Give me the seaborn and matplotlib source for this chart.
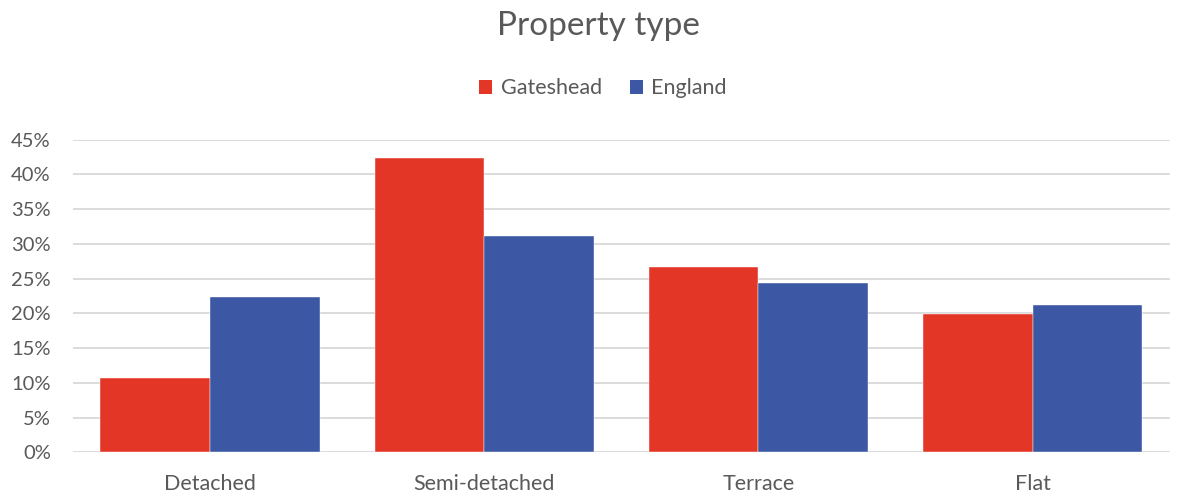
import matplotlib
matplotlib.use("Agg")
import matplotlib.pyplot as plt
import seaborn as sns
import pandas as pd
from matplotlib.patches import Patch
from matplotlib.ticker import PercentFormatter

# %%
categories = ["Detached", "Semi-detached", "Terrace", "Flat"]
gateshead = [10.7, 42.4, 26.7, 19.9]
england = [22.4, 31.2, 24.4, 21.2]
series = ["Gateshead", "England"]
colors = ["#E33626", "#3C58A4"]
text_col = "#595959"

df = pd.DataFrame({
    "category": categories * 2,
    "area": [series[0]] * len(categories) + [series[1]] * len(categories),
    "value": gateshead + england,
})

# %%
sns.set_style("white")
plt.rcParams["font.family"] = ["Lato", "DejaVu Sans"]

fig = plt.figure(figsize=(11.78, 4.97), dpi=100)
ax = fig.add_axes([0.062, 0.09, 0.931, 0.629])

sns.barplot(data=df, x="category", y="value", hue="area", order=categories,
            hue_order=series, palette=colors, width=0.8, gap=0,
            saturation=1, edgecolor="white", linewidth=0.3, ax=ax, legend=False)

ax.set_ylim(0, 45)
ax.set_yticks(range(0, 46, 5))
ax.yaxis.set_major_formatter(PercentFormatter(decimals=0))
ax.set_xlim(-0.5, len(categories) - 0.5)
ax.grid(axis="y", color="#D9D9D9", linewidth=1.3)
ax.set_axisbelow(True)
for s in ax.spines.values():
    s.set_visible(False)
ax.tick_params(axis="y", length=0, pad=16, labelsize=14.5, labelcolor=text_col)
ax.tick_params(axis="x", length=0, pad=16, labelsize=15.5, labelcolor=text_col)
ax.set_xlabel("")
ax.set_ylabel("")

handles = [Patch(facecolor=c, edgecolor="none") for c in colors]
fig.legend(handles, series, loc="center", bbox_to_anchor=(0.512, 0.822), ncol=2,
           frameon=False, fontsize=15.5, labelcolor=text_col, handlelength=0.6,
           handleheight=0.6, handletextpad=0.4, columnspacing=1.3)

fig.text(0.508, 0.947, "Property type", ha="center", va="center", fontsize=24, color=text_col)

fig.savefig("out.png", dpi=100)
